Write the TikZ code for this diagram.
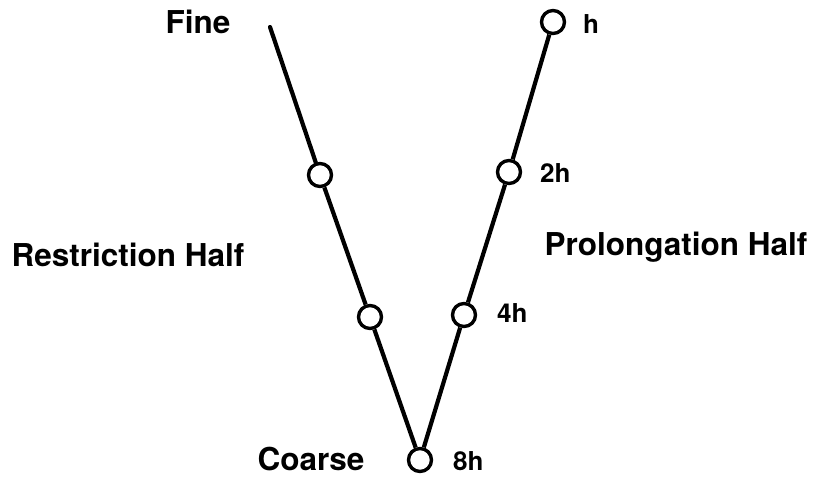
\documentclass[tikz,border=0pt]{standalone}
\usepackage{fontspec}
\setmainfont{TeX Gyre Heros}
\begin{document}
\begin{tikzpicture}[x=1pt,y=-1pt,
  lvl/.style={circle,draw=black,fill=white,line width=3.4pt,minimum size=23pt,inner sep=0pt},
  leg/.style={line width=4.2pt},
  big/.style={font=\fontsize{31.5}{34}\selectfont\bfseries,inner sep=0pt},
  small/.style={font=\fontsize{26}{28}\selectfont\bfseries,inner sep=0pt,anchor=base west}]
\useasboundingbox (0,0) rectangle (815,477);
\coordinate (top) at (270,27);
\node[lvl] (l1) at (320,175) {};
\node[lvl] (l2) at (370,317) {};
\node[lvl] (bot) at (420,460) {};
\node[lvl] (r0) at (553,22) {};
\node[lvl] (r1) at (509,172) {};
\node[lvl] (r2) at (464,315) {};
\draw[leg,line cap=round] (top) -- (l1);
\draw[leg] (l1) -- (l2);
\draw[leg] (l2) -- (bot);
\draw[leg] (bot) -- (r2);
\draw[leg] (r2) -- (r1);
\draw[leg] (r1) -- (r0);
\node[big,anchor=base] (fine) at (198,33) {Fine};
\node[big,anchor=base] (coarse) at (311,470) {Coarse};
\node[big,anchor=base] (rest) at (128,266) {Restriction Half};
\node[big,anchor=base] (prol) at (676,255) {Prolongation Half};
\node[small] (h1) at (583,33) {h};
\node[small] (h2) at (540,182) {2h};
\node[small] (h4) at (497,322) {4h};
\node[small] (h8) at (453,470) {8h};
\end{tikzpicture}
\end{document}
